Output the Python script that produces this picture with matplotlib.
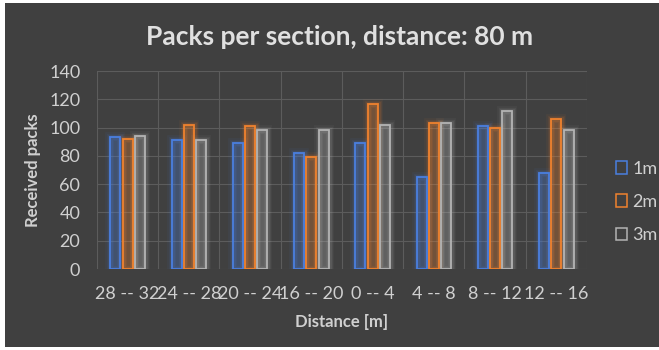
import matplotlib
matplotlib.use("Agg")
import matplotlib.pyplot as plt
from matplotlib.patches import Rectangle, Patch
import numpy as np

plt.rcParams['font.family'] = ['Lato', 'DejaVu Sans']

sections = ["28 -- 32", "24 -- 28", "20 -- 24", "16 -- 20", "0 -- 4", "4 -- 8", "8 -- 12", "12 -- 16"]
series_names = ["1m", "2m", "3m"]
packs_1m = [93, 91, 89, 82, 89, 65, 101, 68]
packs_2m = [92, 102, 101, 79, 117, 103, 100, 106]
packs_3m = [94, 91, 98, 98, 102, 103, 112, 98]
colors = ["#4a7fe0", "#f0822e", "#b4b4b4"]

bg = "#404040"
text_col = "#d0d0d0"
grid_col = "#5c5c5c"

fig = plt.figure(figsize=(6.59, 3.5), dpi=100, facecolor="white")
fig.patches.append(Rectangle((5 / 659, 3 / 350), 1, 344 / 350, transform=fig.transFigure,
                             facecolor=bg, edgecolor="none", zorder=-10))
ax = fig.add_axes([97 / 659, 81 / 350, 490 / 659, 198 / 350])
ax.set_facecolor(bg)

x = np.arange(len(sections))
width = 0.16
pitch = 0.2
all_series = [packs_1m, packs_2m, packs_3m]
for i, (vals, col) in enumerate(zip(all_series, colors)):
    pos = x + (i - 1) * pitch
    # soft glow around each bar
    for lw, a in [(7, 0.06), (5, 0.08), (3.5, 0.12)]:
        ax.bar(pos, vals, width=width, facecolor="none", edgecolor=col, linewidth=lw, alpha=a, zorder=2)
    ax.bar(pos, vals, width=width, facecolor=col, alpha=0.25, edgecolor="none", zorder=3)
    ax.bar(pos, vals, width=width, facecolor="none", edgecolor=col, linewidth=1.3, zorder=4)

ax.set_xlim(-0.5, len(sections) - 0.5)
ax.set_ylim(0, 140)
ax.set_yticks(np.arange(0, 141, 20))
ax.set_xticks(x)
ax.set_xticklabels(sections)
ax.set_xticks(np.arange(-0.5, len(sections), 1), minor=True)
ax.grid(True, which="minor", axis="x", color=grid_col, linewidth=0.8, zorder=0)
ax.grid(True, which="major", axis="y", color=grid_col, linewidth=0.8, zorder=0)
ax.set_axisbelow(True)
for s in ax.spines.values():
    s.set_visible(False)
ax.tick_params(which="both", length=0, colors=text_col, labelsize=13)
ax.tick_params(axis="x", pad=12)
ax.tick_params(axis="y", pad=12)

ax.set_xlabel("Distance [m]", color=text_col, fontsize=12, fontweight="bold", labelpad=9)
ax.set_ylabel("Received packs", color=text_col, fontsize=12, fontweight="bold", labelpad=6)
fig.text(0.515, 0.893, "Packs per section, distance: 80 m", ha="center", va="center",
         color="#e0e0e0", fontsize=19, fontweight="bold")

handles = [Patch(facecolor=(0, 0, 0, 0), edgecolor=c, linewidth=1.1) for c in colors]
leg = fig.legend(handles, series_names, loc="center left", bbox_to_anchor=(600 / 659, 1 - 202 / 350),
                 frameon=False, fontsize=13, labelcolor=text_col, handlelength=0.6, handleheight=0.7,
                 handletextpad=0.3, labelspacing=0.95)

fig.savefig("out.png", dpi=100, facecolor=fig.get_facecolor())
